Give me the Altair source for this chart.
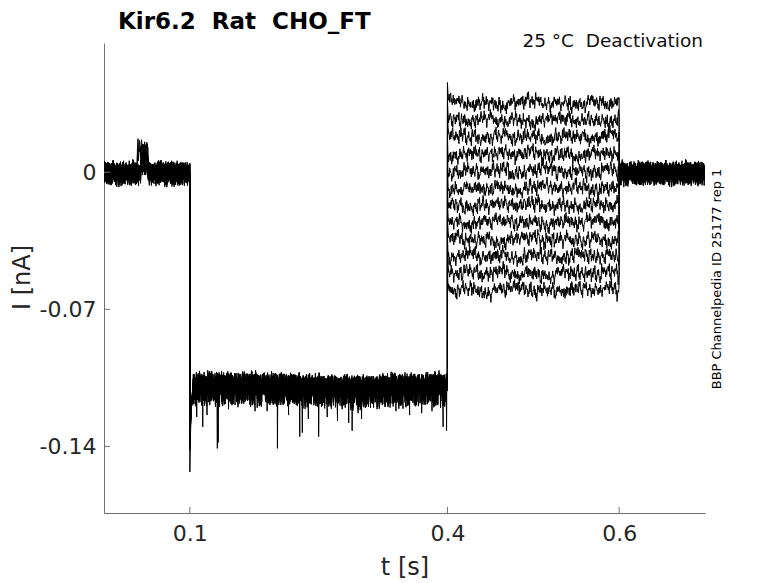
import altair as alt
import numpy as np
import pandas as pd

# ---------------- texts ----------------
TITLE = "Kir6.2\u00a0 Rat\u00a0 CHO_FT"
SUBTITLE = "25 \u00b0C\u00a0 Deactivation"
SIDE_TEXT = "BBP Channelpedia ID 25177 rep 1"
X_TITLE = "t [s]"
Y_TITLE = "I [nA]"

# ---------------- axes ----------------
X_TICKS = [0.1, 0.4, 0.6]
Y_TICKS = [0.0, -0.07, -0.14]
X_DOMAIN = [0.0, 0.7]
Y_DOMAIN = [-0.174, 0.066]

# ---------------- recording values ----------------
HOLD_LEVEL = -0.0005          # 0-0.1 s and 0.6-0.7 s
HOLD_NOISE = 0.0075
BUMP_SWEEPS = [3, 8]
BUMP_WINDOW = [0.039, 0.051]
BUMP_LEVEL = 0.0115
SHIFT_WINDOW = [0.043, 0.051]
SHIFT_LEVEL = 0.0045
ONSET_PEAKS = [-0.153, -0.140, -0.135, -0.138, -0.130, -0.142,
               -0.128, -0.136, -0.133, -0.139, -0.131, -0.134]
ONSET_RECOVERY = [-0.124, -0.116]
HYPER_CHUNK_LEVELS = [-0.1094, -0.1091, -0.1091, -0.1094, -0.1097, -0.1100,
                      -0.1106, -0.1109, -0.1106, -0.1101, -0.1097, -0.1094]
HYPER_NOISE = 0.0088
SPIKE_TIMES = [0.115, 0.132, 0.133, 0.202, 0.228, 0.231, 0.250, 0.289,
               0.285, 0.395, 0.120, 0.176, 0.260, 0.300, 0.340, 0.370,
               0.399, 0.108, 0.145, 0.190, 0.215, 0.238, 0.272, 0.296,
               0.318, 0.356, 0.382, 0.156]
SPIKE_DEPTHS = [-0.130, -0.141, -0.138, -0.141, -0.135, -0.133, -0.135, -0.132,
                -0.128, -0.130, -0.124, -0.122, -0.125, -0.126, -0.122, -0.123,
                -0.132, -0.125, -0.121, -0.122, -0.124, -0.126, -0.127, -0.123,
                -0.121, -0.124, -0.122, -0.120]
TAIL_LEVELS = [0.0353, 0.0266, 0.0179, 0.0092, 0.0005, -0.0082,
               -0.0169, -0.0256, -0.0343, -0.0430, -0.0517, -0.0603]
TAIL_NOISE = 0.0054
TAIL_WANDER = 0.0017
TAIL_OVERSHOOT = 0.0105

NOISE = [0.12, -0.45, 0.78, -0.21, 0.35, -0.88, 0.54, 0.07, -0.63, 0.91,
         -0.14, 0.42, -0.76, 0.29, -0.05, 0.67, -0.39, 0.83, -0.58, 0.16,
         -0.97, 0.48, 0.03, -0.31, 0.72, -0.66, 0.24, -0.12, 0.59, -0.84,
         0.37, 0.95, -0.27, 0.11, -0.53, 0.64, -0.08, 0.81, -0.71, 0.19,
         -0.36, 0.50, -0.93, 0.26, 0.69, -0.17, 0.44, -0.60, 0.02, 0.87,
         -0.48, 0.33, -0.79, 0.15, 0.58, -0.23, 0.75, -0.41, 0.09, -0.68,
         0.46, -0.02, 0.92, -0.55, 0.21, -0.86, 0.38, 0.62, -0.19, 0.05,
         -0.74, 0.53, -0.33, 0.85, -0.10, 0.28, -0.62, 0.70, -0.44, 0.14,
         -0.90, 0.40, 0.66, -0.26, 0.01, -0.57, 0.31, -0.81, 0.56]

FONT = "DejaVu Sans"
AXIS_COLOR = "#707070"
TEXT_COLOR = "#262626"
DT = 0.0006

# ---------------- build the sweeps ----------------
rows = []
N = len(NOISE)
for k, tail in enumerate(TAIL_LEVELS):
    pts = []
    j = 0

    def nz(idx, kk=k):
        return (0.55 * NOISE[(idx + 17 * kk) % N]
                + 0.45 * NOISE[(idx // 4 + 31 * kk + 5) % N])

    def slow(idx, kk=k):
        return NOISE[(idx // 30 + 13 * kk + 40) % N]

    # holding 0 - 0.1 s
    for t in np.arange(0.0, 0.1, DT):
        lvl = HOLD_LEVEL
        if SHIFT_WINDOW[0] <= t <= SHIFT_WINDOW[1]:
            lvl = SHIFT_LEVEL
        if k in BUMP_SWEEPS and BUMP_WINDOW[0] <= t <= BUMP_WINDOW[1]:
            lvl = BUMP_LEVEL
        pts.append((t, lvl + HOLD_NOISE * nz(j))); j += 1
    pts.append((0.1, HOLD_LEVEL + HOLD_NOISE * nz(j))); j += 1
    pts.append((0.1, ONSET_PEAKS[k]))
    pts.append((0.1012, ONSET_RECOVERY[0]))
    pts.append((0.1025, ONSET_RECOVERY[1]))
    # hyperpolarising step 0.1 - 0.4 s
    seg = []
    for t in np.arange(0.104, 0.3995, DT):
        c = min(int((t - 0.1) / 0.025), len(HYPER_CHUNK_LEVELS) - 1)
        n = nz(j)
        if n < -0.55:
            n *= 1.3
        seg.append((t, HYPER_CHUNK_LEVELS[c] + HYPER_NOISE * n)); j += 1
    for s, (st, sd) in enumerate(zip(SPIKE_TIMES, SPIKE_DEPTHS)):
        if s % len(TAIL_LEVELS) == k:
            seg.append((st, sd))
    seg.sort(key=lambda p: p[0])
    pts.extend(seg)
    pts.append((0.4, HYPER_CHUNK_LEVELS[-1] + HYPER_NOISE * nz(j))); j += 1
    # deactivation tail 0.4 - 0.6 s
    pts.append((0.4, tail + TAIL_OVERSHOOT))
    for t in np.arange(0.4008, 0.6, DT):
        pts.append((t, tail + TAIL_NOISE * nz(j) + TAIL_WANDER * slow(j))); j += 1
    pts.append((0.6, tail + TAIL_NOISE * nz(j))); j += 1
    # back to holding 0.6 - 0.7 s
    for t in np.arange(0.6, 0.7, DT):
        pts.append((t, HOLD_LEVEL + HOLD_NOISE * nz(j))); j += 1
    for i, (t, v) in enumerate(pts):
        rows.append({"sweep": k, "i": i, "t": round(float(t), 5), "I": round(float(v), 5)})

df = pd.DataFrame(rows)

x_scale = alt.Scale(domain=X_DOMAIN, nice=False, zero=False)
y_scale = alt.Scale(domain=Y_DOMAIN, nice=False, zero=False)

x_axis = alt.Axis(values=X_TICKS, ticks=False, grid=False, format=".1f",
                  labelFont=FONT, labelFontSize=22, labelColor=TEXT_COLOR,
                  labelPadding=10, domainColor=AXIS_COLOR, domainWidth=1,
                  title=X_TITLE, titleFont=FONT, titleFontSize=24,
                  titleFontWeight="normal", titleColor=TEXT_COLOR,
                  titleY=54, titleBaseline="middle")
y_axis = alt.Axis(values=Y_TICKS, ticks=False, grid=False,
                  labelExpr="datum.value == 0 ? '0' : '-' + format(abs(datum.value), '.2f')",
                  labelFont=FONT, labelFontSize=22, labelColor=TEXT_COLOR,
                  labelPadding=8, domainColor=AXIS_COLOR, domainWidth=1,
                  title=Y_TITLE, titleFont=FONT, titleFontSize=24,
                  titleFontWeight="normal", titleColor=TEXT_COLOR,
                  titleX=-82, titleY=234, titleAngle=270,
                  titleAlign="center", titleBaseline="middle")

traces = alt.Chart(df).mark_line(color="black", strokeWidth=1.0, clip=True).encode(
    x=alt.X("t:Q", scale=x_scale, axis=x_axis),
    y=alt.Y("I:Q", scale=y_scale, axis=y_axis),
    detail="sweep:N",
    order="i:Q",
)

xticks = alt.Chart(pd.DataFrame({"t": X_TICKS})).mark_rule(color=AXIS_COLOR, strokeWidth=1).encode(
    x=alt.X("t:Q", scale=x_scale), y=alt.value(470), y2=alt.value(464))
yticks = alt.Chart(pd.DataFrame({"I": Y_TICKS})).mark_rule(color=AXIS_COLOR, strokeWidth=1).encode(
    y=alt.Y("I:Q", scale=y_scale), x=alt.value(0), x2=alt.value(6))

title = alt.Chart(pd.DataFrame({"s": [TITLE]})).mark_text(
    align="left", baseline="alphabetic", font=FONT, fontSize=23, fontWeight="bold", color="black"
).encode(text="s:N", x=alt.value(14), y=alt.value(-14))
subtitle = alt.Chart(pd.DataFrame({"s": [SUBTITLE]})).mark_text(
    align="right", baseline="alphabetic", font=FONT, fontSize=18.5, color="#111111"
).encode(text="s:N", x=alt.value(599), y=alt.value(4))
side = alt.Chart(pd.DataFrame({"s": [SIDE_TEXT]})).mark_text(
    align="center", baseline="middle", font=FONT, fontSize=13, angle=270, color="black"
).encode(text="s:N", x=alt.value(613), y=alt.value(236))

chart = alt.layer(traces, xticks, yticks, title, subtitle, side).properties(
    width=601, height=470,
    autosize=alt.AutoSizeParams(type="none"),
    padding={"left": 96, "top": 35, "right": 60, "bottom": 70},
    background="white",
).configure_view(stroke="transparent")

chart.save("out.html", embed_options={"renderer": "svg", "actions": False})
